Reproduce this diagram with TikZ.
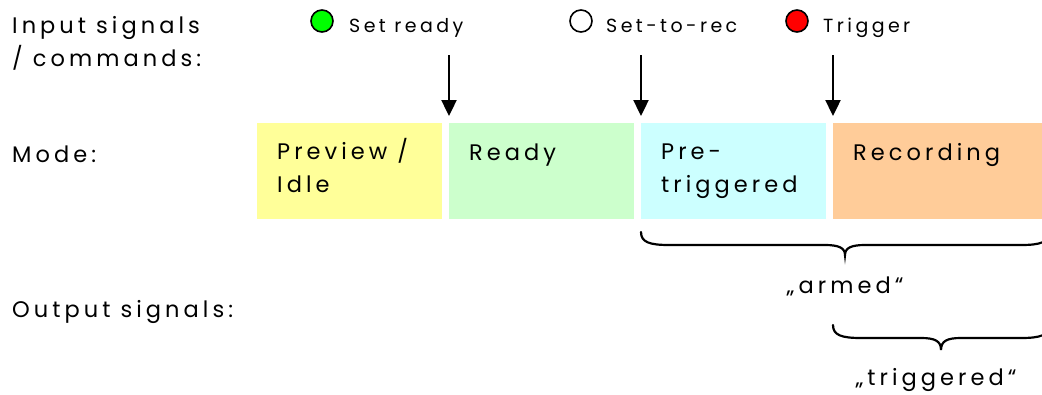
\documentclass[tikz,border=0pt]{standalone}
\usepackage{fontspec}
\setmainfont{Poppins}[LetterSpace=18]
\usetikzlibrary{arrows.meta}
\definecolor{idleyellow}{HTML}{FFFF99}
\definecolor{readygreen}{HTML}{CCFFCC}
\definecolor{precyan}{HTML}{CCFFFF}
\definecolor{recorange}{HTML}{FFCC99}
\definecolor{ledgreen}{HTML}{00FF00}
\definecolor{ledred}{HTML}{FF0000}
\tikzset{
  mainfont/.style={font=\fontsize{22.5}{32.5}\selectfont},
  smallfont/.style={font=\fontsize{19}{24}\selectfont},
  lbl/.style={mainfont, inner sep=0pt, anchor=base west, align=left},
  sml/.style={smallfont, inner sep=0pt, anchor=base west},
  modebox/.style={rectangle, draw=none, inner sep=0pt, minimum height=96pt, anchor=north west},
  led/.style={circle, draw=black, line width=1.6pt, minimum size=22pt, inner sep=0pt},
  sig/.style={line width=2.4pt, -{Triangle[width=15pt,length=16pt]}},
  bracestyle/.style={line width=2.2pt, line cap=round}
}
\begin{document}
\begin{tikzpicture}[x=1pt, y=-1pt]
\useasboundingbox (0,0) rectangle (1042,394);
\clip (0,0) rectangle (1042,394);

% row captions (base anchor of a two-line node sits on its last line)
\node[lbl] (cin)   at (12,66)  {Input signals\\/ commands:};
\node[lbl] (cmode) at (12,162) {Mode:};
\node[lbl] (cout)  at (12,317) {Output signals:};

% mode boxes
\node[modebox, fill=idleyellow, minimum width=185pt] (idle)  at (257,123) {};
\node[modebox, fill=readygreen, minimum width=185pt] (ready) at (449,123) {};
\node[modebox, fill=precyan,    minimum width=185pt] (pre)   at (641,123) {};
\node[modebox, fill=recorange,  minimum width=216pt] (rec)   at (833,123) {};

\node[lbl] (idlet)  at (277,192) {Preview /\\Idle};
\node[lbl] (readyt) at (469,160) {Ready};
\node[lbl] (pret)   at (661,192) {Pre-\\triggered};
\node[lbl] (rect)   at (853,160) {Recording};

% input signals
\node[led, fill=ledgreen] (ledready) at (322,21) {};
\node[sml] (setready) at (349,32) {Set ready};
\node[led, fill=white] (ledrec) at (581,21) {};
\node[sml] (settorec) at (606,32) {Set-to-rec};
\node[led, fill=ledred] (ledtrig) at (797,21) {};
\node[sml] (trigger) at (823,32) {Trigger};

\coordinate (s1) at (449,55);
\coordinate (s2) at (641,55);
\coordinate (s3) at (833,55);
\draw[sig] (s1) -- ([yshift=7pt]ready.north west);
\draw[sig] (s2) -- ([yshift=7pt]pre.north west);
\draw[sig] (s3) -- ([yshift=7pt]rec.north west);

% output signals: braces
\draw[bracestyle] (641,232) .. controls (641,242) and (649,245) .. (669,245)
  -- (825,245) .. controls (839,245) and (845,248) .. (845,255)
  .. controls (845,248) and (851,245) .. (865,245)
  -- (1021,245) .. controls (1041,245) and (1049,242) .. (1049,232);
\node[mainfont, inner sep=0pt, anchor=base] (armed) at (845,293) {„armed“};

\draw[bracestyle] (833,325) .. controls (833,335) and (841,338) .. (861,338)
  -- (921,338) .. controls (935,338) and (941,341) .. (941,350)
  .. controls (941,341) and (947,338) .. (961,338)
  -- (1021,338) .. controls (1041,338) and (1049,335) .. (1049,325);
\node[mainfont, inner sep=0pt, anchor=base] (triggered) at (936,385) {„triggered“};
\end{tikzpicture}
\end{document}
